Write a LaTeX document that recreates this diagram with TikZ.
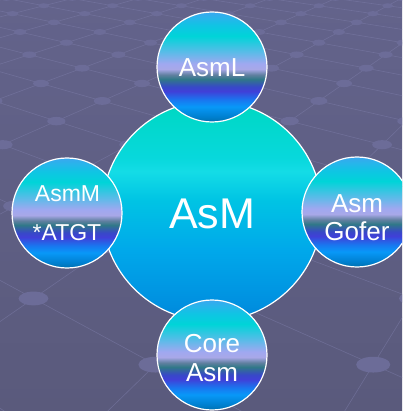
\documentclass[tikz,border=0pt]{standalone}
\usepackage{fontspec}
\setmainfont{Liberation Sans}

% background and floor grid
\definecolor{bgTop}{HTML}{63638B}
\definecolor{bgBot}{HTML}{5A5A7C}
\definecolor{gridRule}{HTML}{7C7CA8}
\definecolor{gridDot}{HTML}{6C6C98}

% central disc
\definecolor{bA}{HTML}{0086DA}
\definecolor{bB}{HTML}{0090E0}
\definecolor{bC}{HTML}{00A8EA}
\definecolor{bD}{HTML}{00C4E4}
\definecolor{bE}{HTML}{14DCE6}
\definecolor{bF}{HTML}{08D8DC}
\definecolor{bG}{HTML}{00D8C8}
\definecolor{bH}{HTML}{00D6BE}
\pgfdeclareverticalshading{bigball}{100bp}{%
  color(0bp)=(bA); color(25bp)=(bA); color(29bp)=(bB); color(41bp)=(bC);
  color(52.5bp)=(bD); color(59bp)=(bE); color(62bp)=(bF); color(72bp)=(bG);
  color(75bp)=(bH); color(100bp)=(bH)}

% satellite discs (banded metallic look)
\definecolor{sA}{HTML}{0070B0}
\definecolor{sB}{HTML}{0080D0}
\definecolor{sC}{HTML}{0898F8}
\definecolor{sD}{HTML}{1878F0}
\definecolor{sE}{HTML}{4040D8}
\definecolor{sF}{HTML}{3848C8}
\definecolor{sG}{HTML}{307888}
\definecolor{sH}{HTML}{6080A0}
\definecolor{sI}{HTML}{A8A8E8}
\definecolor{sJ}{HTML}{A0A8F0}
\definecolor{sK}{HTML}{58BCE8}
\definecolor{sL}{HTML}{00D4D8}
\definecolor{sM}{HTML}{10C4E4}
\definecolor{sN}{HTML}{3AA8F0}
\pgfdeclareverticalshading{smallball}{100bp}{%
  color(0bp)=(sA); color(25bp)=(sA); color(27.5bp)=(sB); color(32bp)=(sC);
  color(35bp)=(sD); color(39bp)=(sE); color(41bp)=(sF); color(44.5bp)=(sG);
  color(46.5bp)=(sH); color(49bp)=(sI); color(51.5bp)=(sJ); color(57bp)=(sK);
  color(64bp)=(sL); color(69bp)=(sM); color(75bp)=(sN); color(100bp)=(sN)}

% perspective map of the floor lattice: (i,j) -> (\bgX,\bgY)
\newcommand\bgmap[2]{%
  \pgfmathsetmacro\bgG{-0.208+(#1)*0.24-(#2)*0.175}%
  \pgfmathsetmacro\bgD{3.88-(#1)*0.205-(#2)*0.205}%
  \pgfmathsetmacro\bgX{60+745*\bgG/\bgD}%
  \pgfmathsetmacro\bgY{-160+745/\bgD}%
}

\tikzset{
  floorline/.style={draw=gridRule, line width=0.6pt, opacity=0.55},
  bigdisc/.style={circle, minimum size=220pt, inner sep=0pt, draw=white,
    line width=1.2pt, shade, shading=bigball},
  smalldisc/.style={circle, minimum size=110pt, inner sep=0pt, draw=white,
    line width=1.2pt, shade, shading=smallball},
  disctext/.style={text=white, inner sep=0pt, anchor=base},
}

\begin{document}
\begin{tikzpicture}[x=1pt, y=-1pt]
\useasboundingbox (0,0) rectangle (402,411);
\clip (0,0) rectangle (402,411);
\shade[top color=bgTop, bottom color=bgBot] (0,0) rectangle (402,411);

% floor grid lines
\foreach \k in {-15,...,25}{
  \bgmap{\k}{-4.5-(\k)}\coordinate (la) at (\bgX,\bgY);
  \bgmap{\k}{13.1-(\k)}\coordinate (lb) at (\bgX,\bgY);
  \draw[floorline] (la) -- (lb);
  \bgmap{-4.5-(\k)}{\k}\coordinate (lc) at (\bgX,\bgY);
  \bgmap{13.1-(\k)}{\k}\coordinate (ld) at (\bgX,\bgY);
  \draw[floorline] (lc) -- (ld);
}
% floor grid studs
\foreach \i in {-15,...,25}{
  \foreach \j in {-15,...,25}{
    \pgfmathtruncatemacro\bgS{\i+\j}
    \ifnum\bgS>-5 \ifnum\bgS<14
      \bgmap{\i}{\j}
      \pgfmathsetmacro\bgRx{6.5*(\bgY+160)/200}
      \pgfmathsetmacro\bgRy{3*(\bgY+160)/200}
      \fill[gridDot] (\bgX,\bgY) ellipse[x radius=\bgRx pt, y radius=\bgRy pt];
    \fi\fi
  }
}

% discs
\node[bigdisc] (asm) at (212,211) {};
\node[smalldisc] (asml) at (212,67) {};
\node[smalldisc] (asmm) at (67,213) {};
\node[smalldisc] (gofer) at (357,212) {};
\node[smalldisc] (coreasm) at (212,355) {};

% captions
\node[disctext, font=\fontsize{43}{50}\selectfont] (tasm) at (212,228) {AsM};
\node[disctext, font=\fontsize{26}{30}\selectfont] (tasml) at (212,77) {AsmL};
\node[disctext, font=\fontsize{23}{27}\selectfont] (tasmm) at (67.5,202) {AsmM};
\node[disctext, font=\fontsize{23}{27}\selectfont] (tatgt) at (67,240) {*ATGT};
\node[disctext, font=\fontsize{26}{30}\selectfont] (tgofa) at (357,212) {Asm};
\node[disctext, font=\fontsize{26}{30}\selectfont] (tgofb) at (357,240) {Gofer};
\node[disctext, font=\fontsize{26}{30}\selectfont] (tcorea) at (212,352) {Core};
\node[disctext, font=\fontsize{26}{30}\selectfont] (tcoreb) at (212,381) {Asm};
\end{tikzpicture}
\end{document}
